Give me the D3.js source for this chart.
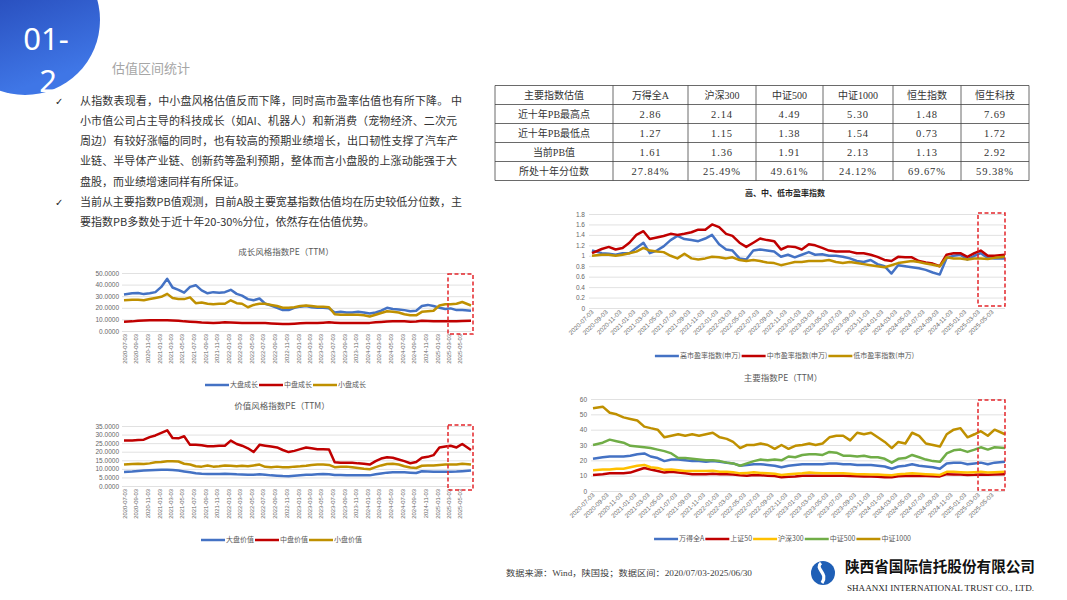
<!DOCTYPE html>
<html>
<head>
<meta charset="utf-8">
<script src="https://cdn.jsdelivr.net/npm/d3@7"></script>
<style>
body{margin:0;background:#fff}
svg{display:block;font-family:"Noto Sans CJK SC","Liberation Sans",sans-serif}
</style>
</head>
<body>
<svg id="slide" width="1067" height="600"></svg>
<script>
// ---------- data ----------
var tickLabels = ["2020-07-03","2020-09-03","2020-11-03","2021-01-03","2021-03-03","2021-05-03","2021-07-03","2021-09-03","2021-11-03","2022-01-03","2022-03-03","2022-05-03","2022-07-03","2022-09-03","2022-11-03","2023-01-03","2023-03-03","2023-05-03","2023-07-03","2023-09-03","2023-11-03","2024-01-03","2024-03-03","2024-05-03","2024-07-03","2024-09-03","2024-11-03","2025-01-03","2025-03-03","2025-05-03"];

// monthly readings, 2020-07 .. 2025-06
var bigGrowth = [31.5,32.5,32.8,31.8,32.5,33.5,38,45,37.5,35.5,33,38,39.5,35,32.5,33.5,33,33.5,35.5,32,30.5,27.5,26.5,28,23.5,22,20,18,18,20,21,21.5,20.5,20,20,19.5,16,16.5,16,16,16.5,16,15,16,17.5,20,19,18.5,18,17,17.5,21.5,22.5,21.5,20,19,19.5,18,18,17.5];
var midGrowth = [8,8.3,8.8,9,9.2,9.3,9.3,9.2,9,8.8,8.3,8,7.8,7.4,7.2,7,7.2,7.5,7.4,7.2,7,6.8,6.8,7,6.8,6.5,6.3,6,6,6.3,6.6,6.8,6.8,7,7.2,7.5,7.2,7,7,7,7,6.9,7,7.5,7.8,8.2,8.3,8.4,8.3,8,8.2,8.8,8.6,8.4,8.3,8.3,8.4,8.4,8.6,8.8];
var smallGrowth = [26.5,27,27,26.5,27.5,28.5,29.5,32,28.5,27.5,27.5,29,24,24.5,23.5,23,23.5,23.5,26.5,24,23.5,20.5,22.5,23.5,23.5,22.5,21.5,20,20,20.5,21.5,22,21.5,21,21,20.5,14.5,14,14,14,14,13.5,12.5,14,15.5,17,16.5,16,14.5,13.5,13.5,16.5,17,17.5,22,23,23,23.5,25,22];

var bigValue = [8.2,8.5,8.8,9,9.2,9.4,9.5,9.5,9.3,9,8.5,8,7.5,7.2,7,7,7,7.2,7,6.8,6.7,6.5,6.6,6.8,6.5,6.2,6,5.8,5.7,6,6.3,6.5,6.6,6.8,7,6.8,6.4,6.4,6.3,6.2,6.2,6.3,6.2,6.8,7.3,7.8,8,8,8,7.8,7.6,8.6,8.5,8.3,8.3,8.3,8.3,8.4,8.6,9];
var midValue = [26.5,26.5,26.8,27,28.5,29.5,31,32.5,28,27.8,29,24,24,23.8,23.2,23.2,23.5,23.5,26.5,24.5,23.5,22,19.8,24,23.5,23,22.5,21,19.8,20.5,21.5,22.5,22,21.5,21.5,21.3,13.8,13.6,13.6,13.5,13.2,13,12.5,14.5,16,16.8,16.5,15.5,14.5,13.3,14,16.5,17,18,22.5,23,23.5,22.5,24.5,21];
var smallValue = [12.5,12.8,13,12.8,13.2,13.8,14,14.5,14.5,14.3,13,12.5,11.5,11.3,12,11.3,11.5,12,11.8,11.5,11.8,11.5,12,12.5,11.2,11,11.3,11,11,11.3,11.5,11.8,12.3,12.5,12.5,12.3,11,11.2,11.3,11,10.5,10,9.8,11,12,12.8,13,12.5,11.5,10.8,10.5,11.8,12,12,12.3,12.5,12.5,12.5,13,12.5];

var highPE = [1.1,1.05,1.04,1.02,1.05,1.05,1.15,1.25,1.05,1.1,1.18,1.3,1.38,1.32,1.3,1.28,1.33,1.4,1.22,1.12,1.1,0.95,0.93,1.1,1.12,1.1,1.08,0.98,1.02,0.97,1.02,1.07,1.02,1.03,1.0,1.0,0.98,0.95,0.9,0.88,0.92,0.84,0.8,0.66,0.82,0.8,0.78,0.76,0.73,0.68,0.64,0.95,1.0,1.02,0.93,1.0,1.05,0.96,0.95,0.95];
var midPE = [1.05,1.13,1.17,1.12,1.15,1.25,1.4,1.47,1.32,1.35,1.38,1.42,1.4,1.42,1.45,1.5,1.5,1.6,1.55,1.42,1.38,1.25,1.17,1.25,1.33,1.3,1.28,1.12,1.18,1.17,1.12,1.22,1.2,1.15,1.1,1.08,1.08,1.08,1.05,1.05,1.02,0.98,0.92,0.9,0.98,0.97,0.97,0.9,0.87,0.85,0.8,1.02,1.05,1.05,0.98,1.05,1.1,1.0,1.0,1.02];
var lowPE = [1.0,1.02,1.02,1.0,1.02,1.05,1.08,1.15,1.1,1.08,1.07,1.0,0.95,1.04,0.95,0.93,0.95,0.98,0.97,0.95,0.97,0.92,0.9,0.92,0.9,0.87,0.86,0.82,0.85,0.88,0.88,0.9,0.9,0.9,0.92,0.88,0.86,0.88,0.86,0.84,0.82,0.8,0.78,0.82,0.86,0.88,0.9,0.88,0.85,0.83,0.8,0.97,0.95,0.95,0.93,0.95,0.95,0.94,0.96,0.98];

var windA = [21,22,22.5,22.5,22.5,23,24,24.5,22.5,21.5,19.5,20.5,20.5,20,19.5,19.5,19,19.5,19,18.5,18,16.5,17,17.5,17.5,17,16.5,15.5,16.5,17,17.5,17.5,17.5,17.5,18,18,17.5,17.5,17,17,17,16.5,16,14.5,16,16.5,17.5,16.5,16,15.5,14.5,18,18.5,18.5,17.5,18,18.5,17.5,18.5,19];
var sz50 = [10.5,11,11.5,11.5,11.5,12,13.5,15,14,13,12,12.5,12,11.5,11,11,11,11.2,11,11,10.8,10.3,10,10.5,10.3,10,9.8,9,9.3,9.5,10,10,10,10,10,10,10,9.8,9.6,9.5,9.5,9.3,9,9,9.6,9.8,10,9.8,9.8,9.6,9.5,11,10.8,10.7,10.5,10.6,10.8,10.6,10.8,11];
var hs300 = [13.5,14,14,14.5,14.5,15.5,16.5,17,15.5,15,13.8,14,13.5,13,13,13,13,13.2,12.5,12.5,12.3,11.5,11.8,12.2,11.8,11.5,11.2,10.5,11,11.2,11.5,12,11.8,11.5,11.5,11.5,11.5,11.2,11,11,10.8,10.7,10.5,10.3,11,11.2,11.5,11.2,11,10.8,10.5,12.5,12.5,12.3,12,12.3,12.5,12,12.3,12.5];
var zz500 = [30,31.5,33.5,32.5,31.5,29.5,29,28.5,28,27,26,24.5,21.5,21.5,21,20.5,20,20,19.5,18.5,18,16.5,18,19.5,20.5,20,20.5,20,22.5,22,23.5,24,24,23.5,25.5,25,23,23,22.5,23,22,22,21,18.5,21,21.5,23.5,22,20.5,19.5,19,24.5,26.5,27,25.5,27,28.5,27,28.5,28];
var zz1000 = [54,55,51,50,48,47,46,42,41,40,35,36,37,36,37,36,37,38,35,34,32,28,30,30,31,30,27.5,30,27.5,29.5,30,31,30,31,35,36,36,33,38,37,38,35,32,28,32,31,38,36,31,30,29,37,40,41,35,37,39,36,40,37];

// PB table
var tableCols = ["主要指数估值","万得全A","沪深300","中证500","中证1000","恒生指数","恒生科技"];
var rowNames = ["近十年PB最高点","近十年PB最低点","当前PB值","所处十年分位数"];
var pbHigh = [2.86,2.14,4.49,5.30,1.48,7.69];
var pbLow = [1.27,1.15,1.38,1.54,0.73,1.72];
var pbNow = [1.61,1.36,1.91,2.13,1.13,2.92];
var pbPct = [27.84,25.49,49.61,24.12,69.67,59.38];

var bullets = [
  "从指数表现看，中小盘风格估值反而下降，同时高市盈率估值也有所下降。 中",
  "小市值公司占主导的科技成长（如AI、机器人）和新消费（宠物经济、二次元",
  "周边）有较好涨幅的同时，也有较高的预期业绩增长，出口韧性支撑了汽车产",
  "业链、半导体产业链、创新药等盈利预期，整体而言小盘股的上涨动能强于大",
  "盘股，而业绩增速同样有所保证。",
  "当前从主要指数PB值观测，目前A股主要宽基指数估值均在历史较低分位数，主",
  "要指数PB多数处于近十年20-30%分位，依然存在估值优势。"
];
var bulletChecks = [0, 5];
var bulletWidths = [382, 377, 378, 377, 0, 382, 0];

// ---------- setup ----------
var svg = d3.select('#slide');
var parse = d3.timeParse('%Y-%m-%d');
var dates = d3.timeMonth.range(new Date(2020, 6, 1), new Date(2025, 6, 1))
  .map(function(d){ return new Date(d.getFullYear(), d.getMonth(), 15); });
dates[0] = parse('2020-07-03');
dates[dates.length - 1] = parse('2025-06-30');
var tickDates = tickLabels.map(parse);
var dateDomain = [parse('2020-07-03'), parse('2025-06-30')];

var BLUE = '#4472c4', RED = '#c00000', GOLD = '#bf9000', YEL = '#ffc000', GRN = '#70ad47';

// ---------- header ----------
var defs = svg.append('defs');
var grad = defs.append('linearGradient').attr('id', 'hdr')
  .attr('x1', 0).attr('y1', 0).attr('x2', 0.35).attr('y2', 1);
grad.append('stop').attr('offset', 0).attr('stop-color', '#1a35a3');
grad.append('stop').attr('offset', 1).attr('stop-color', '#3f76e6');
svg.append('circle').attr('cx', 25).attr('cy', 20).attr('r', 75).attr('fill', 'url(#hdr)');
svg.append('text').attr('x', 46).attr('y', 50).attr('text-anchor', 'middle')
  .style('font-family', '"Noto Sans",sans-serif').style('font-size', '31px').attr('fill', '#fff').text('01-');
svg.append('text').attr('x', 48).attr('y', 92).attr('text-anchor', 'middle')
  .style('font-family', '"Noto Sans",sans-serif').style('font-size', '31px').attr('fill', '#fff').text('2');
svg.append('text').attr('x', 112).attr('y', 73).style('font-size', '13px').attr('fill', '#a6a6a6').text('估值区间统计');

// bullets
bullets.forEach(function(t, i){
  var yb = 104.5 + 20.3 * i;
  var tx = svg.append('text').attr('x', 80).attr('y', yb).style('font-size', '11px').attr('fill', '#333').text(t);
  if (bulletWidths[i]) tx.attr('textLength', bulletWidths[i]).attr('lengthAdjust', 'spacing');
  if (bulletChecks.indexOf(i) >= 0) {
    svg.append('text').attr('x', 55).attr('y', yb).style('font-family', '"DejaVu Sans",sans-serif')
      .style('font-size', '10px').attr('fill', '#222').text('✓');
  }
});

// ---------- table ----------
var colX = [495, 613, 688, 756, 823, 893, 961, 1029];
var rowY = d3.range(6).map(function(i){ return 85.5 + 19 * i; });
var tg = svg.append('g');
var fmt2 = d3.format('.2f');
var tableBody = [
  [rowNames[0]].concat(pbHigh.map(fmt2)),
  [rowNames[1]].concat(pbLow.map(fmt2)),
  [rowNames[2]].concat(pbNow.map(fmt2)),
  [rowNames[3]].concat(pbPct.map(function(v){ return fmt2(v) + '%'; }))
];
var tableRows = [tableCols].concat(tableBody);
rowY.forEach(function(y){
  tg.append('line').attr('x1', colX[0]).attr('x2', colX[colX.length - 1]).attr('y1', y).attr('y2', y)
    .attr('stroke', '#444').attr('stroke-width', 0.8);
});
colX.forEach(function(x){
  tg.append('line').attr('x1', x).attr('x2', x).attr('y1', rowY[0]).attr('y2', rowY[rowY.length - 1])
    .attr('stroke', '#444').attr('stroke-width', 0.8);
});
tableRows.forEach(function(row, r){
  row.forEach(function(cell, c){
    var cx = (colX[c] + colX[c + 1]) / 2;
    var isNum = r > 0 && c > 0;
    tg.append('text').attr('x', cx).attr('y', rowY[r] + 13).attr('text-anchor', 'middle')
      .style('font-family', isNum ? '"Liberation Serif",serif' : '"Liberation Serif","Noto Sans CJK SC",serif')
      .style('font-size', isNum ? '10.5px' : '10px').style('letter-spacing', isNum ? '0.9px' : '0')
      .attr('fill', '#333').text(cell);
  });
});

// ---------- line charts ----------
function drawChart(c) {
  var g = svg.append('g');
  var x = d3.scaleTime().domain(dateDomain).range([c.x0, c.x1]);
  var y = d3.scaleLinear().domain([0, c.yMax]).range([c.yBottom, c.yTop]);

  g.append('g').attr('transform', 'translate(' + c.left + ',0)')
    .call(d3.axisLeft(y).tickValues(c.yTicks).tickSize(-(c.right - c.left)).tickFormat(''))
    .call(function(a){ a.select('.domain').remove(); })
    .call(function(a){ a.selectAll('line').attr('stroke', '#d9d9d9').attr('stroke-width', 0.8); });

  g.append('g').attr('transform', 'translate(' + c.left + ',0)')
    .call(d3.axisLeft(y).tickValues(c.yTicks).tickSize(0).tickPadding(c.yPad).tickFormat(c.yFmt))
    .call(function(a){ a.select('.domain').remove(); })
    .call(function(a){
      a.selectAll('text').attr('fill', '#666')
        .style('font-size', '6.5px').style('font-family', '"Liberation Sans",sans-serif');
    });

  g.append('g').attr('transform', 'translate(0,' + c.yBottom + ')')
    .call(d3.axisBottom(x).tickValues(tickDates).tickSize(0).tickFormat(d3.timeFormat('%Y-%m-%d')))
    .call(function(a){ a.select('.domain').remove(); })
    .call(function(a){
      a.selectAll('text').attr('x', 0).attr('y', 0).attr('dy', '0.35em')
        .attr('transform', 'translate(0,' + c.xPad + ') rotate(' + c.rot + ')')
        .style('text-anchor', 'end').attr('fill', '#666')
        .style('font-size', c.xFont).style('font-family', '"Liberation Sans",sans-serif');
    });

  var line = d3.line().x(function(d, i){ return x(dates[i]); }).y(function(d){ return y(d); });
  c.series.forEach(function(s){
    g.append('path').datum(s.values).attr('d', line).attr('fill', 'none')
      .attr('stroke', s.color).attr('stroke-width', 2.5).attr('stroke-linejoin', 'round');
  });

  g.append('text').attr('x', c.titleX).attr('y', c.titleY).attr('text-anchor', 'middle')
    .style('font-size', c.titleBold ? '8px' : '8.5px').style('font-weight', c.titleBold ? 'bold' : 'normal')
    .attr('fill', c.titleBold ? '#262626' : '#595959').text(c.title);

  var lg = g.append('g');
  var pos = 0;
  c.series.forEach(function(s){
    lg.append('line').attr('x1', pos).attr('x2', pos + 24).attr('y1', 0).attr('y2', 0)
      .attr('stroke', s.color).attr('stroke-width', 2.5);
    var t = lg.append('text').attr('x', pos + 25).attr('dy', '0.35em')
      .style('font-size', '7px').attr('fill', '#595959').text(s.name);
    pos += 25 + t.node().getComputedTextLength() + 1;
  });
  lg.attr('transform', 'translate(' + (c.titleX - pos / 2) + ',' + c.legendY + ')');

  g.append('rect').attr('x', c.box[0]).attr('y', c.box[1]).attr('width', c.box[2]).attr('height', c.box[3])
    .attr('fill', 'none').attr('stroke', '#e3262b').attr('stroke-width', 1.5).attr('stroke-dasharray', '4 2.5');
}

var fmt4 = d3.format('.4f');
drawChart({
  title: '成长风格指数PE（TTM）', titleX: 286, titleY: 255,
  left: 122, right: 471, x0: 124, x1: 471, yTop: 273, yBottom: 331, yMax: 50,
  yTicks: [0, 10, 20, 30, 40, 50], yFmt: fmt4, yPad: 3, rot: -90, xPad: 3, xFont: '5.8px',
  legendY: 385, box: [448, 274, 25, 60],
  series: [
    {name: '大盘成长', values: bigGrowth, color: BLUE},
    {name: '中盘成长', values: midGrowth, color: RED},
    {name: '小盘成长', values: smallGrowth, color: GOLD}
  ]
});
drawChart({
  title: '价值风格指数PE（TTM）', titleX: 282, titleY: 409,
  left: 122, right: 471, x0: 124, x1: 471, yTop: 426, yBottom: 486, yMax: 35,
  yTicks: [0, 5, 10, 15, 20, 25, 30, 35], yFmt: fmt4, yPad: 3, rot: -90, xPad: 3, xFont: '5.8px',
  legendY: 540, box: [448, 425, 25, 65],
  series: [
    {name: '大盘价值', values: bigValue, color: BLUE},
    {name: '中盘价值', values: midValue, color: RED},
    {name: '小盘价值', values: smallValue, color: GOLD}
  ]
});
drawChart({
  title: '高、中、低市盈率指数', titleX: 785, titleY: 196, titleBold: true,
  left: 589, right: 1005, x0: 592, x1: 1005, yTop: 214, yBottom: 308, yMax: 1.8,
  yTicks: [0, 0.2, 0.4, 0.6, 0.8, 1, 1.2, 1.4, 1.6, 1.8], yFmt: d3.format('~g'), yPad: 4, rot: -45, xPad: 3, xFont: '6.3px',
  legendY: 356, box: [978, 213, 27, 93],
  series: [
    {name: '高市盈率指数(申万)', values: highPE, color: BLUE},
    {name: '中市盈率指数(申万)', values: midPE, color: RED},
    {name: '低市盈率指数(申万)', values: lowPE, color: GOLD}
  ]
});
drawChart({
  title: '主要指数PE（TTM）', titleX: 783, titleY: 381,
  left: 591, right: 1005, x0: 593, x1: 1005, yTop: 399, yBottom: 491, yMax: 60,
  yTicks: [0, 10, 20, 30, 40, 50, 60], yFmt: d3.format('d'), yPad: 4, rot: -45, xPad: 3, xFont: '6.3px',
  legendY: 539, box: [978, 400, 27, 90],
  series: [
    {name: '万得全A', values: windA, color: BLUE},
    {name: '上证50', values: sz50, color: RED},
    {name: '沪深300', values: hs300, color: YEL},
    {name: '中证500', values: zz500, color: GRN},
    {name: '中证1000', values: zz1000, color: GOLD}
  ]
});

// ---------- footer ----------
svg.append('text').attr('x', 506).attr('y', 576).attr('textLength', 246).attr('lengthAdjust', 'spacingAndGlyphs')
  .style('font-family', '"Liberation Serif","Noto Sans CJK SC",serif').style('font-size', '8.5px')
  .attr('fill', '#404040').text('数据来源：Wind，陕国投；数据区间：2020/07/03-2025/06/30');
var logo = svg.append('g').attr('transform', 'translate(823,573)');
logo.append('circle').attr('r', 12).attr('fill', '#1f5fb6');
logo.append('path').attr('d', 'M-2,-10 C-9,-4 6,0 -1,10').attr('fill', 'none').attr('stroke', '#fff').attr('stroke-width', 3.2);
svg.append('text').attr('x', 845).attr('y', 572).attr('textLength', 190).attr('lengthAdjust', 'spacingAndGlyphs')
  .style('font-size', '15px').style('font-weight', 'bold').attr('fill', '#111').text('陕西省国际信托股份有限公司');
svg.append('text').attr('x', 847).attr('y', 591).attr('textLength', 187).attr('lengthAdjust', 'spacingAndGlyphs')
  .style('font-family', '"Liberation Serif",serif').style('font-size', '8px').attr('fill', '#222')
  .text('SHAANXI INTERNATIONAL TRUST CO., LTD.');
</script>
</body>
</html>
